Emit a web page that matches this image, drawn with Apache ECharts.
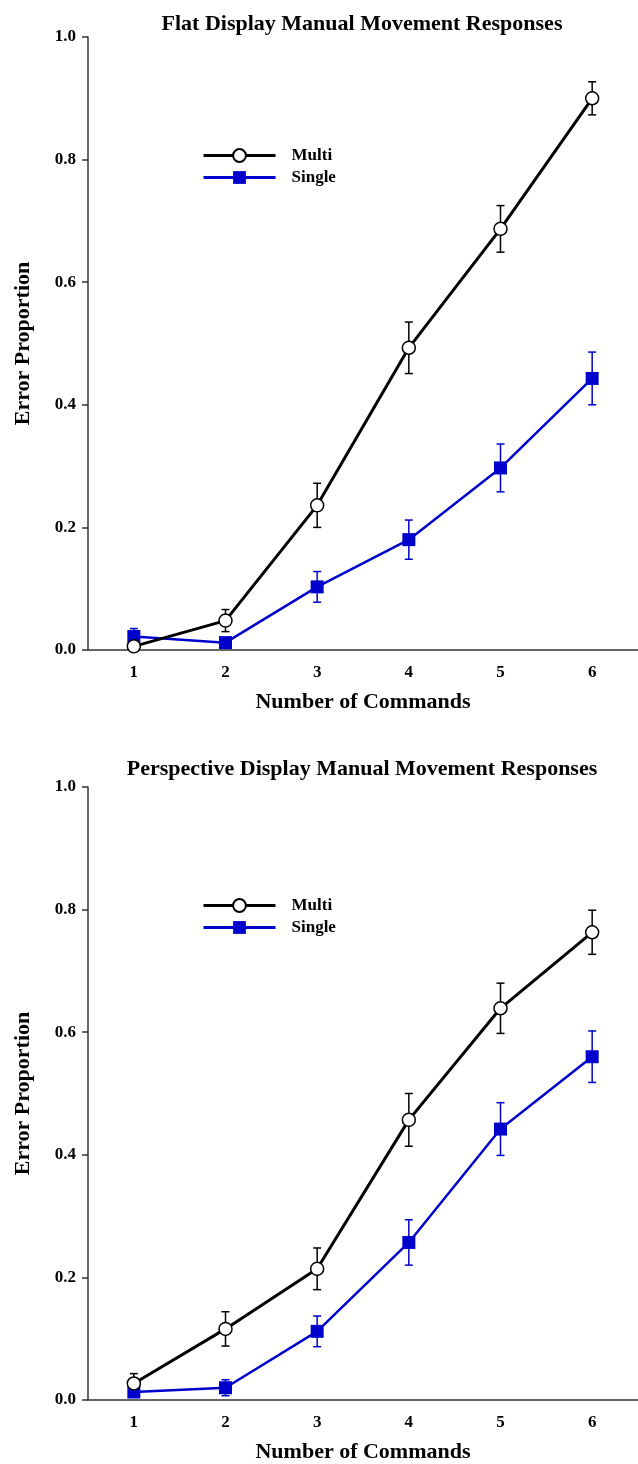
<!DOCTYPE html>
<html>
<head>
<meta charset="utf-8">
<script src="https://cdn.jsdelivr.net/npm/echarts@6/dist/echarts.min.js"></script>
<style>
html,body{margin:0;padding:0;background:#fff;}
#chart{width:638px;height:1464px;}
</style>
</head>
<body>
<div id="chart"></div>
<script>
const categories = ['1', '2', '3', '4', '5', '6'];
const yTicks = [0.0, 0.2, 0.4, 0.6, 0.8, 1.0];

const flatMulti      = [0.006, 0.048, 0.236, 0.493, 0.687, 0.900];
const flatMultiErr   = [0.004, 0.018, 0.036, 0.042, 0.038, 0.027];
const flatSingle     = [0.022, 0.012, 0.103, 0.180, 0.297, 0.443];
const flatSingleErr  = [0.013, 0.008, 0.025, 0.032, 0.039, 0.043];

const persMulti      = [0.027, 0.116, 0.214, 0.457, 0.639, 0.763];
const persMultiErr   = [0.016, 0.028, 0.034, 0.043, 0.041, 0.036];
const persSingle     = [0.013, 0.020, 0.112, 0.257, 0.442, 0.560];
const persSingleErr  = [0.005, 0.013, 0.025, 0.037, 0.043, 0.042];

const titles = ['Flat Display Manual Movement Responses', 'Perspective Display Manual Movement Responses'];
const xName = 'Number of Commands';
const yName = 'Error Proportion';

const FONT = 'Liberation Serif';
const BLUE = '#0000cc';
const AXIS = '#333';

function errData(vals, errs) { return vals.map((v, i) => [i, v, errs[i]]); }

function errorBars(name, gi, vals, errs, color) {
  return {
    type: 'custom', name: name + ' err', xAxisIndex: gi, yAxisIndex: gi, z: 1,
    data: errData(vals, errs),
    encode: { x: 0, y: 1 },
    silent: true,
    renderItem: function (params, api) {
      const x = api.value(0), y = api.value(1), e = api.value(2);
      const t = api.coord([x, y + e]);
      const b = api.coord([x, y - e]);
      const hw = 4;
      const st = { stroke: color, lineWidth: 1.5 };
      return { type: 'group', children: [
        { type: 'line', shape: { x1: t[0], y1: t[1], x2: b[0], y2: b[1] }, style: st },
        { type: 'line', shape: { x1: t[0] - hw, y1: t[1], x2: t[0] + hw, y2: t[1] }, style: st },
        { type: 'line', shape: { x1: b[0] - hw, y1: b[1], x2: b[0] + hw, y2: b[1] }, style: st }
      ]};
    }
  };
}

function multiSeries(gi, vals) {
  return { type: 'line', name: 'Multi', xAxisIndex: gi, yAxisIndex: gi, z: 3, data: vals,
    symbol: 'circle', symbolSize: 13, showAllSymbol: true,
    lineStyle: { color: '#000', width: 3 },
    itemStyle: { color: '#fff', borderColor: '#000', borderWidth: 1.5 },
    emphasis: { disabled: true }, animation: false };
}
function singleSeries(gi, vals) {
  return { type: 'line', name: 'Single', xAxisIndex: gi, yAxisIndex: gi, z: 2, data: vals,
    symbol: 'rect', symbolSize: 13, showAllSymbol: true,
    lineStyle: { color: BLUE, width: 2.5 },
    itemStyle: { color: BLUE, borderColor: BLUE, borderWidth: 0 },
    emphasis: { disabled: true }, animation: false };
}

const gridTops = [37, 787];
const titleTops = [13, 758];
const plotH = 613;

const option = {
  animation: false,
  backgroundColor: '#fff',
  title: titles.map((t, i) => ({
    text: t, left: 362, top: titleTops[i], textAlign: 'center', padding: 0,
    textStyle: { fontFamily: FONT, fontWeight: 'bold', fontSize: 22, color: '#000' }
  })),
  legend: gridTops.map((gt, i) => ({
    data: ['Multi', 'Single'], orient: 'vertical', left: 197, top: gt + 105,
    itemWidth: 72, itemHeight: 16, itemGap: 5, selectedMode: false,
    lineStyle: { width: 3 },
    textStyle: { fontFamily: FONT, fontWeight: 'bold', fontSize: 17, color: '#000', padding: [0, 0, 0, 11] }
  })),
  grid: gridTops.map(gt => ({ left: 88, top: gt, width: 553, height: plotH, containLabel: false })),
  xAxis: gridTops.map((gt, i) => ({
    type: 'category', gridIndex: i, data: categories, boundaryGap: true,
    name: xName, nameLocation: 'middle', nameGap: 41,
    nameTextStyle: { fontFamily: FONT, fontWeight: 'bold', fontSize: 22, color: '#000' },
    axisLine: { lineStyle: { color: AXIS, width: 1.5 } },
    axisTick: { alignWithLabel: true, length: 6, lineStyle: { color: AXIS, width: 1.5 } },
    axisLabel: { fontFamily: FONT, fontWeight: 'bold', fontSize: 17, color: '#000', margin: 14 },
    splitLine: { show: false }
  })),
  yAxis: gridTops.map((gt, i) => ({
    type: 'value', gridIndex: i, min: 0, max: 1, interval: 0.2,
    name: yName, nameLocation: 'middle', nameGap: 54,
    nameTextStyle: { fontFamily: FONT, fontWeight: 'bold', fontSize: 22, color: '#000' },
    axisLine: { show: true, lineStyle: { color: AXIS, width: 1.5 } },
    axisTick: { show: true, length: 6, lineStyle: { color: AXIS, width: 1.5 } },
    axisLabel: { fontFamily: FONT, fontWeight: 'bold', fontSize: 17, color: '#000', margin: 12,
      formatter: v => v.toFixed(1) },
    splitLine: { show: false }
  })),
  series: [
    errorBars('Multi', 0, flatMulti, flatMultiErr, '#000'),
    errorBars('Single', 0, flatSingle, flatSingleErr, BLUE),
    singleSeries(0, flatSingle),
    multiSeries(0, flatMulti),
    errorBars('Multi', 1, persMulti, persMultiErr, '#000'),
    errorBars('Single', 1, persSingle, persSingleErr, BLUE),
    singleSeries(1, persSingle),
    multiSeries(1, persMulti)
  ]
};

const chart = echarts.init(document.getElementById('chart'), null, { renderer: 'canvas' });
chart.setOption(option);
</script>
</body>
</html>
